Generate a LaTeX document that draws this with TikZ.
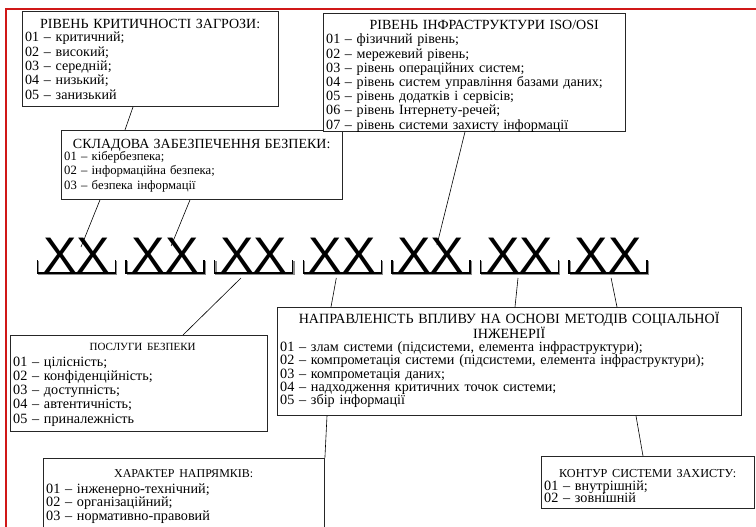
\documentclass[tikz,border=0pt]{standalone}
\usepackage{fontspec}
\setmainfont{Liberation Serif}
\newfontfamily\xxfont{Liberation Sans}
\setlength{\parindent}{0pt}
\setlength{\parskip}{0pt}
\definecolor{framered}{RGB}{208,24,24}
% body font of a panel: size and line pitch
\newcommand\bodyfont[2]{\fontsize{#1}{#2}\selectfont}
% centred heading of a panel (size, text, extra space below)
\newcommand\heading[3]{{\centering\fontsize{#1}{15}\selectfont\rule{0pt}{10pt}#2\par}\vspace{#3}}
% one "XX" code field with its underbracket
\newcommand\codefield[2]{%
  \node[xxtext] (#1) at (#2,272) {XX};
  \draw[bracketshade] ([shift={(-37.8,-10.8)}]#1.base) -- ([shift={(-37.8,2.2)}]#1.base)
     -- ([shift={(40.2,2.2)}]#1.base) -- ([shift={(40.2,-10.8)}]#1.base);
  \draw[bracketline] ([shift={(-39,-12)}]#1.base) -- ([shift={(-39,1)}]#1.base)
     -- ([shift={(39,1)}]#1.base) -- ([shift={(39,-12)}]#1.base);
}
\begin{document}
\begin{tikzpicture}[x=1pt,y=-1pt,
  panel/.style={draw=black!85, line width=0.9pt, fill=white, anchor=north west, inner sep=0pt},
  paneltext/.style={anchor=north west, inner sep=0pt, align=left},
  xxtext/.style={font=\xxfont\fontsize{50}{50}\selectfont, anchor=base, inner sep=0pt},
  bracketline/.style={draw=black, line width=1.3pt},
  bracketshade/.style={draw=black!45, line width=1.3pt},
  conn/.style={draw=black, line width=0.6pt}]
\clip (0,0) rectangle (756,527);

% frame
\draw[framered, line width=2pt] (6,527) -- (6,9) -- (756,9);

% code fields
\codefield{x1}{76.5}
\codefield{x2}{165.1}
\codefield{x3}{253.7}
\codefield{x4}{342.3}
\codefield{x5}{430.9}
\codefield{x6}{519.5}
\codefield{x7}{608.1}

% security component
\node[panel, minimum width=281pt, minimum height=69pt] (sklad) at (61,130) {};
\node[paneltext, font=\bodyfont{12.7}{14.5}, text width=275pt] (sklad-t) at ([shift={(3,8.6)}]sklad.north west)
 {\heading{14}{СКЛАДОВА ЗАБЕЗПЕЧЕННЯ БЕЗПЕКИ:}{-2.8pt}
  01 – кібербезпека;\par
  02 – інформаційна безпека;\par
  03 – безпека інформації\par};

% threat criticality
\node[panel, minimum width=256pt, minimum height=95pt] (crit) at (22,11) {};
\node[paneltext, font=\bodyfont{14.1}{14.3}, text width=250pt] (crit-t) at ([shift={(3,7.6)}]crit.north west)
 {\heading{14}{РІВЕНЬ КРИТИЧНОСТІ ЗАГРОЗИ:}{-1.1pt}
  01 – критичний;\par
  02 – високий;\par
  03 – середній;\par
  04 – низький;\par
  05 – занизький\par};

% infrastructure level
\node[panel, minimum width=302pt, minimum height=118pt] (infra) at (323,13) {};
\node[paneltext, font=\bodyfont{14.1}{14.2}, text width=296pt] (infra-t) at ([shift={(3,6.6)}]infra.north west)
 {\heading{14}{\hspace*{20pt}РІВЕНЬ ІНФРАСТРУКТУРИ ISO/OSI}{0pt}
  01 – фізичний рівень;\par
  02 – мережевий рівень;\par
  03 – рівень операційних систем;\par
  04 – рівень систем управління базами даних;\par
  05 – рівень додатків і сервісів;\par
  06 – рівень Інтернету-речей;\par
  07 – рівень системи захисту інформації\par};

% security services
\node[panel, minimum width=257pt, minimum height=96pt] (poslugy) at (10,335) {};
\node[paneltext, font=\bodyfont{14.2}{14.3}, text width=251pt] (poslugy-t) at ([shift={(3,5.6)}]poslugy.north west)
 {\heading{11}{\hspace*{8pt}ПОСЛУГИ БЕЗПЕКИ}{0.9pt}
  01 – цілісність;\par
  02 – конфіденційність;\par
  03 – доступність;\par
  04 – автентичність;\par
  05 – приналежність\par};

% social engineering impact
\node[panel, minimum width=464pt, minimum height=108pt] (naprav) at (277,307) {};
\node[paneltext, font=\bodyfont{14.2}{13.3}, text width=458pt] (naprav-t) at ([shift={(3,4.6)}]naprav.north west)
 {\heading{14.1}{НАПРАВЛЕНІСТЬ ВПЛИВУ НА ОСНОВІ МЕТОДІВ СОЦІАЛЬНОЇ\par ІНЖЕНЕРІЇ}{0pt}
  01 – злам системи (підсистеми, елемента інфраструктури);\par
  02 – компрометація системи (підсистеми, елемента інфраструктури);\par
  03 – компрометація даних;\par
  04 – надходження критичних точок системи;\par
  05 – збір інформації\par};

% nature of directions
\node[panel, minimum width=281pt, minimum height=100pt] (xarakter) at (43,458) {};
\node[paneltext, font=\bodyfont{14.2}{13.5}, text width=275pt] (xarakter-t) at ([shift={(3,9)}]xarakter.north west)
 {\heading{12}{ХАРАКТЕР НАПРЯМКІВ:}{2.3pt}
  01 – інженерно-технічний;\par
  02 – організаційний;\par
  03 – нормативно-правовий\par};

% protection contour
\node[panel, minimum width=213pt, minimum height=52pt] (kontur) at (541,456) {};
\node[paneltext, font=\bodyfont{14.2}{12.8}, text width=207pt] (kontur-t) at ([shift={(3,11)}]kontur.north west)
 {\heading{12.2}{КОНТУР СИСТЕМИ ЗАХИСТУ:}{0pt}
  01 – внутрішній;\par
  02 – зовнішній\par};

% connectors
\draw[conn] ([xshift=111pt]crit.south west) -- ([xshift=64pt]sklad.north west);
\draw[conn] ([xshift=39pt]sklad.south west) -- ([shift={(4.5,-25)}]x1.base);
\draw[conn] ([xshift=129pt]sklad.south west) -- ([shift={(6,-26)}]x2.base);
\draw[conn] ([xshift=142pt]infra.south west) -- ([shift={(6,-27)}]x5.base);
\draw[conn] ([shift={(-12.7,6)}]x3.base) -- ([xshift=173pt]poslugy.north west);
\draw[conn] ([shift={(-6,6)}]x4.base) -- ([xshift=54pt]naprav.north west);
\draw[conn] ([shift={(-1.5,6)}]x6.base) -- ([xshift=238pt]naprav.north west);
\draw[conn] ([shift={(3,6)}]x7.base) -- ([xshift=340pt]naprav.north west);
\draw[conn] ([xshift=50pt]naprav.south west) -- (xarakter.north east);
\draw[conn] ([xshift=359pt]naprav.south west) -- ([xshift=102pt]kontur.north west);
\end{tikzpicture}
\end{document}
